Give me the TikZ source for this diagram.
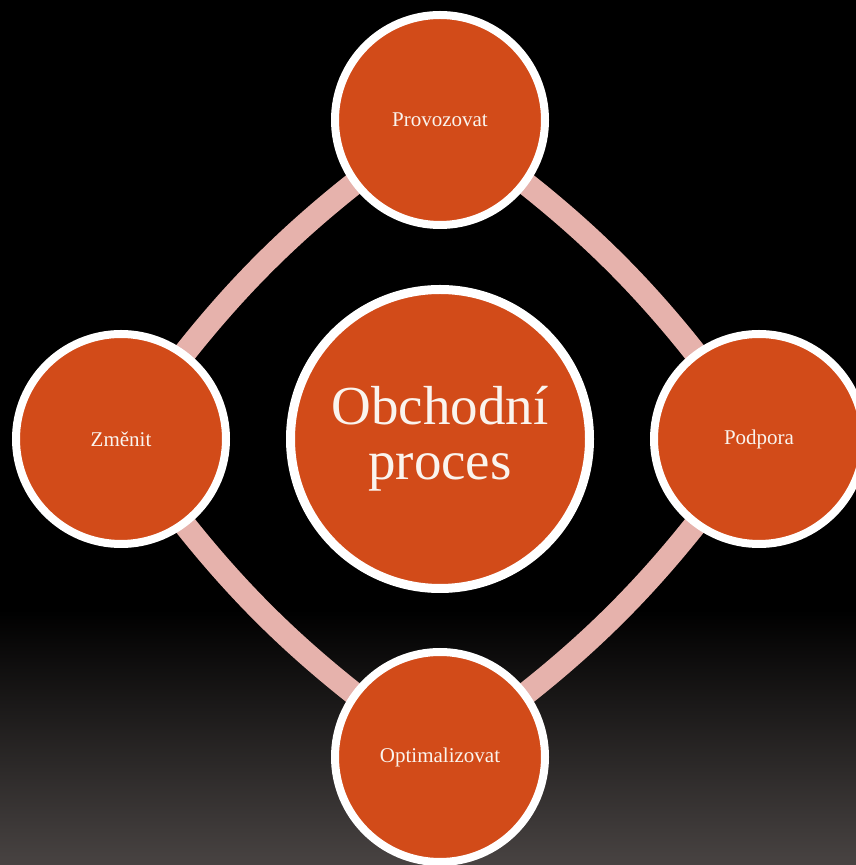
\documentclass[tikz,border=0pt]{standalone}
\usepackage{fontspec}
\setmainfont{Liberation Serif}
\definecolor{procfill}{RGB}{210,75,25}
\definecolor{bandpink}{RGB}{230,178,172}
\definecolor{txtwhite}{RGB}{250,244,238}
\definecolor{bgbottom}{RGB}{72,67,66}
\tikzset{
  sat/.style={circle, fill=procfill, draw=white, line width=8pt, minimum size=210pt, inner sep=0pt, text=txtwhite, font=\fontsize{21}{24}\selectfont},
  hub/.style={circle, fill=procfill, draw=white, line width=9pt, minimum size=299pt, inner sep=0pt, text=txtwhite, align=center, font=\fontsize{55}{55}\selectfont},
  band/.style={draw=bandpink, line width=23pt}
}
\begin{document}
\begin{tikzpicture}[x=1pt,y=1pt]
\useasboundingbox (0,0) rectangle (856,865);
\fill[black] (0,0) rectangle (856,865);
\shade[top color=black, bottom color=bgbottom] (0,0) rectangle (856,255);
\coordinate (pT) at (440,745);
\coordinate (pL) at (121,426);
\coordinate (pR) at (759,426);
\coordinate (pB) at (440,108);
\draw[band] (pT) to[bend right=10] (pL);
\draw[band] (pL) to[bend right=10] (pB);
\draw[band] (pB) to[bend right=10] (pR);
\draw[band] (pR) to[bend right=10] (pT);
\node[hub] (hub) at (440,426) {Obchodní\\proces};
\node[sat] (top) at (pT) {Provozovat};
\node[sat] (left) at (pL) {Změnit};
\node[sat] (right) at (pR) {Podpora};
\node[sat] (bottom) at (pB) {Optimalizovat};
\end{tikzpicture}
\end{document}
